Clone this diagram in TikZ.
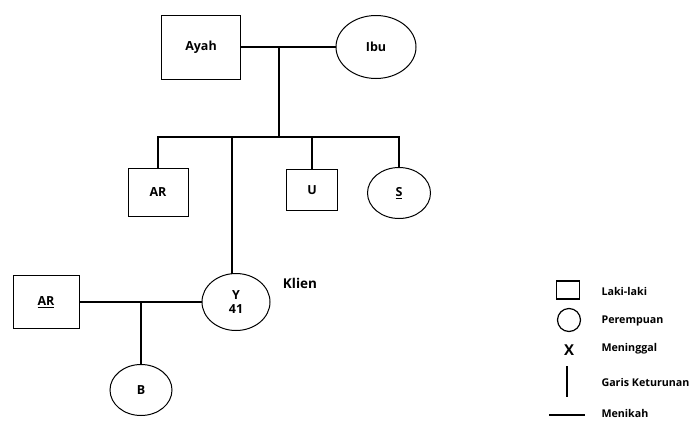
\documentclass[tikz,border=0pt]{standalone}
\usepackage{fontspec}
\setmainfont{Open Sans}
\usetikzlibrary{shapes.geometric}
\tikzset{
	male/.style={draw, line width=1pt, rectangle, inner sep=0pt, font=\bfseries\fontsize{12.5}{15}\selectfont},
	female/.style={draw, line width=1pt, ellipse, inner sep=0pt, font=\bfseries\fontsize{12.5}{15}\selectfont},
	link/.style={line width=2.4pt},
	legtext/.style={anchor=west, font=\bfseries\fontsize{10.7}{12}\selectfont}
}
\begin{document}
\begin{tikzpicture}[x=1pt, y=-1pt]
	\useasboundingbox (0,0) rectangle (691,421);
	% generasi pertama
	\node[male, minimum width=79pt, minimum height=64pt] (ayah) at (201,47) {Ayah};
	\node[female, minimum width=80pt, minimum height=63pt] (ibu) at (376,47) {Ibu};
	\coordinate (mid1) at (279,47);
	\coordinate (sib) at (279,137);
	% anak
	\node[male, minimum width=60pt, minimum height=48pt] (ar) at (158,192) {AR};
	\node[male, minimum width=51pt, minimum height=41pt] (u) at (312,190) {U};
	\node[female, minimum width=63pt, minimum height=51pt] (s) at (399,193) {\underline{S}};
	\node[female, minimum width=68pt, minimum height=57pt, align=center] (y) at (236,302) {Y\\[-1pt]41};
	\node[font=\bfseries\fontsize{13.5}{15}\selectfont] (klien) at (300,283) {Klien};
	% keluarga klien
	\node[male, minimum width=66pt, minimum height=53pt] (suami) at (46,302) {\underline{AR}};
	\node[female, minimum width=62pt, minimum height=51pt] (b) at (141,390) {B};
	\coordinate (mid2) at (141,302);

	\draw[link] (ayah.east) -- (ibu.west);
	\draw[link] (mid1) -- (sib);
	\draw[link] (ar.north) |- (s.north |- sib) -- (s.north);
	\draw[link] (u.north |- sib) -- (u.north);
	\draw[link] (232,137) -- (232,274);
	\draw[link] (suami.east) -- (y.west);
	\draw[link] (mid2) -- (b.north);

	% keterangan
	\node[draw, line width=1.2pt, minimum width=23pt, minimum height=18pt, inner sep=0pt] (lsq) at (568,290) {};
	\node[draw, line width=1.2pt, circle, minimum size=23pt, inner sep=0pt] (lci) at (569,320) {};
	\node[font=\bfseries\fontsize{15}{17}\selectfont] (lx) at (569,350) {X};
	\coordinate (lv1) at (567,366);
	\coordinate (lv2) at (567,397);
	\coordinate (lh1) at (549,415);
	\coordinate (lh2) at (585,415);
	\draw[link, line width=2pt] (lv1) -- (lv2);
	\draw[link, line width=2pt] (lh1) -- (lh2);
	\node[legtext] (t1) at (598,291) {Laki-laki};
	\node[legtext] (t2) at (598,321) {Perempuan};
	\node[legtext] (t3) at (598,349) {Meninggal};
	\node[legtext] (t4) at (598,382) {Garis Keturunan};
	\node[legtext] (t5) at (598,413) {Menikah};
\end{tikzpicture}
\end{document}
